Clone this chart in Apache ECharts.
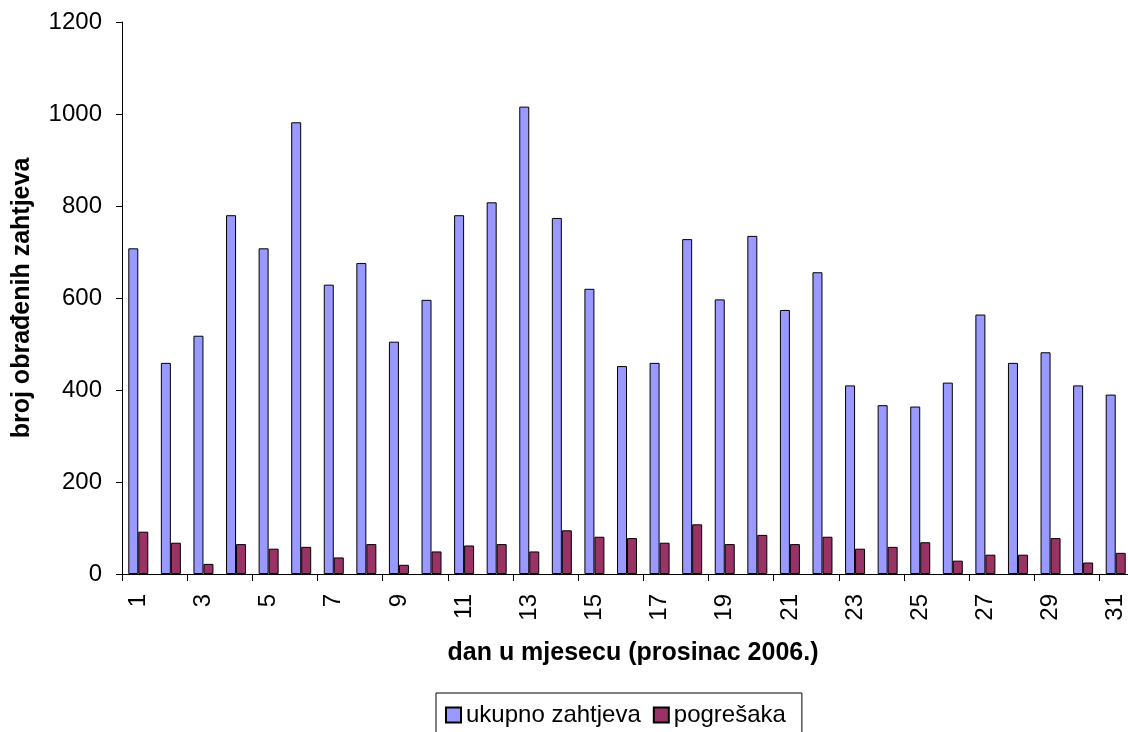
<!DOCTYPE html>
<html>
<head>
<meta charset="utf-8">
<script src="https://cdn.jsdelivr.net/npm/echarts@6/dist/echarts.min.js"></script>
<style>
html,body{margin:0;padding:0;background:#fff;}
#chart{width:1128px;height:732px;}
</style>
</head>
<body>
<div id="chart"></div>
<script>
const days = ['1','2','3','4','5','6','7','8','9','10','11','12','13','14','15','16','17','18','19','20','21','22','23','24','25','26','27','28','29','30','31'];
const ukupnoZahtjeva = [708,459,518,780,708,982,629,676,505,596,780,808,1016,774,620,452,459,728,597,735,574,656,410,367,364,416,564,459,482,410,390];
const pogresaka = [92,68,22,65,55,59,36,65,20,49,62,65,49,95,81,78,68,108,65,85,65,81,55,59,69,29,42,42,78,25,46];
const yTicks = {min:0, max:1200, interval:200};
const seriesNames = ['ukupno zahtjeva','pogrešaka'];
const xTitle = 'dan u mjesecu (prosinac 2006.)';
const yTitle = 'broj obrađenih zahtjeva';

const FONT = '"Liberation Sans", Arial, sans-serif';
const chart = echarts.init(document.getElementById('chart'), null, {renderer:'canvas'});
chart.setOption({
  animation:false,
  backgroundColor:'#fff',
  textStyle:{fontFamily:FONT,color:'#000'},
  grid:{left:122, top:22, width:1010, bottom:158, containLabel:false, outerBoundsMode:'none'},
  legend:{
    left:436, top:693,
    data:seriesNames,
    icon:'rect', itemWidth:15, itemHeight:15, itemGap:12,
    borderColor:'#000', borderWidth:1, borderRadius:0,
    padding:[10,16,10,9],
    textStyle:{fontFamily:FONT,fontSize:24,color:'#000'}
  },
  xAxis:{
    type:'category', data:days,
    name:xTitle, nameLocation:'middle', nameGap:67,
    nameTextStyle:{fontFamily:FONT,fontSize:25,fontWeight:'bold',color:'#000',padding:[0,0,0,12]},
    axisLine:{lineStyle:{color:'#000',width:1}},
    axisTick:{show:true,length:7,lineStyle:{color:'#000'}},
    axisLabel:{interval:1,rotate:90,margin:20,fontFamily:FONT,fontSize:24,color:'#000'},
    splitLine:{show:false}
  },
  yAxis:{
    type:'value', min:yTicks.min, max:yTicks.max, interval:yTicks.interval,
    name:yTitle, nameLocation:'middle', nameGap:87,
    nameTextStyle:{fontFamily:FONT,fontSize:25,fontWeight:'bold',color:'#000'},
    axisLine:{show:true,lineStyle:{color:'#000',width:1}},
    axisTick:{show:true,length:6,lineStyle:{color:'#000'}},
    axisLabel:{margin:20,fontFamily:FONT,fontSize:24,color:'#000',formatter:function(v){return String(v);}},
    splitLine:{show:false}
  },
  series:[
    {name:seriesNames[0], type:'bar', data:ukupnoZahtjeva, barWidth:10, barGap:'0%',
     itemStyle:{color:'#9999FF',borderColor:'#000',borderWidth:1}},
    {name:seriesNames[1], type:'bar', data:pogresaka, barWidth:10, barGap:'0%',
     itemStyle:{color:'#993366',borderColor:'#000',borderWidth:1}}
  ]
});
</script>
</body>
</html>
